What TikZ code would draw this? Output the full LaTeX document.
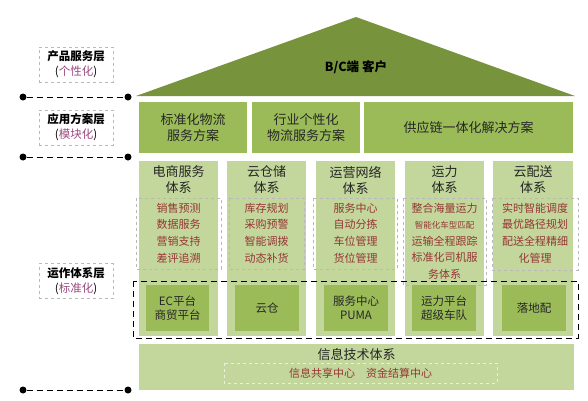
\documentclass[tikz,border=0pt]{standalone}
\usepackage{fontspec}
\setmainfont{Noto Sans CJK SC}
\definecolor{tri}{HTML}{77933C}
\definecolor{mid}{HTML}{9BBB59}
\definecolor{lite}{HTML}{C3D69B}
\definecolor{redtxt}{HTML}{953735}
\definecolor{purp}{HTML}{9A4A80}
\tikzset{
  appbox/.style={fill=mid,draw=none,align=center,font=\fontsize{13}{15.5}\selectfont,text=black!85},
  head/.style={align=center,font=\fontsize{13}{16}\selectfont,text=black!85},
  listbox/.style={draw=gray!55,dashed,line width=0.6pt},
  listtxt/.style={align=center,font=\fontsize{11}{16.6}\selectfont,text=redtxt},
  inbox/.style={fill=mid,draw=none,align=center,font=\fontsize{11.5}{14}\selectfont,text=black!85},
  lbl/.style={draw=gray!55,dashed,line width=0.6pt,align=center,font=\bfseries\fontsize{11.5}{15}\selectfont,minimum width=74pt,minimum height=35pt,inner sep=0pt},
  sep/.style={dashed,dash pattern=on 6pt off 4pt,line width=0.9pt},
  dot/.style={circle,fill=black,inner sep=0pt,minimum size=7pt}
}
\begin{document}
\begin{tikzpicture}[x=1pt,y=-1pt]
\useasboundingbox (0,0) rectangle (588,400);
% triangle
\fill[tri] (136,96) -- (356,17) -- (575,96) -- cycle;
\node[font=\bfseries\fontsize{12.5}{14}\selectfont] (bc) at (356,67) {B/C端 客户};
% application row
\node[appbox,minimum width=108pt,minimum height=51pt,inner sep=0pt] (a1) at (193,127.5) {标准化物流\\服务方案};
\node[appbox,minimum width=108pt,minimum height=51pt,inner sep=0pt] (a2) at (306,127.5) {行业个性化\\物流服务方案};
\node[appbox,minimum width=209pt,minimum height=51pt,inner sep=0pt] (a3) at (468.5,127.5) {供应链一体化解决方案};
% columns
\foreach \l/\r [count=\i] in {139/218,227/306,316/395,405/484,493/573}{
  \fill[lite] (\l,161) rectangle (\r,336);
}
\node[head] (h1) at (178.5,180) {电商服务\\体系};
\node[head] (h2) at (266.5,180) {云仓储\\体系};
\node[head] (h3) at (355.5,180) {运营网络\\体系};
\node[head] (h4) at (444.5,180) {运力\\体系};
\node[head] (h5) at (533,180) {云配送\\体系};
% list boxes
\draw[listbox] (136,198) rectangle (221,269);
\draw[listbox] (229,198) rectangle (304,269);
\draw[listbox] (313,198) rectangle (397,269);
\draw[listbox] (403,198) rectangle (486,285);
\draw[listbox] (492,198) rectangle (578,270);
\node[listtxt] (l1) at (178.5,233) {销售预测\\数据服务\\营销支持\\差评追溯};
\node[listtxt] (l2) at (266.5,233) {库存规划\\采购预警\\智能调拨\\动态补货};
\node[listtxt] (l3) at (355.5,233) {服务中心\\自动分拣\\车位管理\\货位管理};
\node[listtxt] (l4) at (444.5,241) {整合海量运力\\{\fontsize{8.5}{10}\selectfont 智能化车型匹配}\\运输全程跟踪\\标准化司机服\\务体系};
\node[listtxt] (l5) at (535,233) {实时智能调度\\最优路径规划\\配送全程精细\\化管理};
% dashed operations box
\draw[sep] (133,281) rectangle (578,338);
% inner boxes
\node[inbox,minimum width=63pt,minimum height=46pt,inner sep=0pt] (b1) at (177.5,308) {EC平台\\商贸平台};
\node[inbox,minimum width=64pt,minimum height=46pt,inner sep=0pt] (b2) at (267,308) {云仓};
\node[inbox,minimum width=64pt,minimum height=46pt,inner sep=0pt] (b3) at (356,308) {服务中心\\PUMA};
\node[inbox,minimum width=64pt,minimum height=46pt,inner sep=0pt] (b4) at (444,308) {运力平台\\超级车队};
\node[inbox,minimum width=64pt,minimum height=46pt,inner sep=0pt] (b5) at (534,308) {落地配};
% info tech
\fill[lite] (139,344) rectangle (574,390);
\node[head] (it) at (356.5,355) {信息技术体系};
\draw[listbox,draw=white!85!gray] (224,363) rectangle (497,383);
\node[listtxt] (itl) at (360.5,373) {信息共享中心\quad 资金结算中心};
% left labels
\node[lbl] (p1) at (76,64.5) {产品服务层\\{\mdseries(}{\mdseries\color{purp}个性化}{\mdseries)}};
\node[lbl] (p2) at (76,127.5) {应用方案层\\{\mdseries(}{\mdseries\color{purp}模块化}{\mdseries)}};
\node[lbl] (p3) at (76,281) {运作体系层\\{\mdseries(}{\mdseries\color{purp}标准化}{\mdseries)}};
% separators
\foreach \y/\n in {97/s1,157/s2,390/s3}{
  \node[dot] (\n a) at (23,\y) {};
  \node[dot] (\n b) at (128,\y) {};
  \draw[sep] (\n a) -- (\n b);
}
\end{tikzpicture}
\end{document}
